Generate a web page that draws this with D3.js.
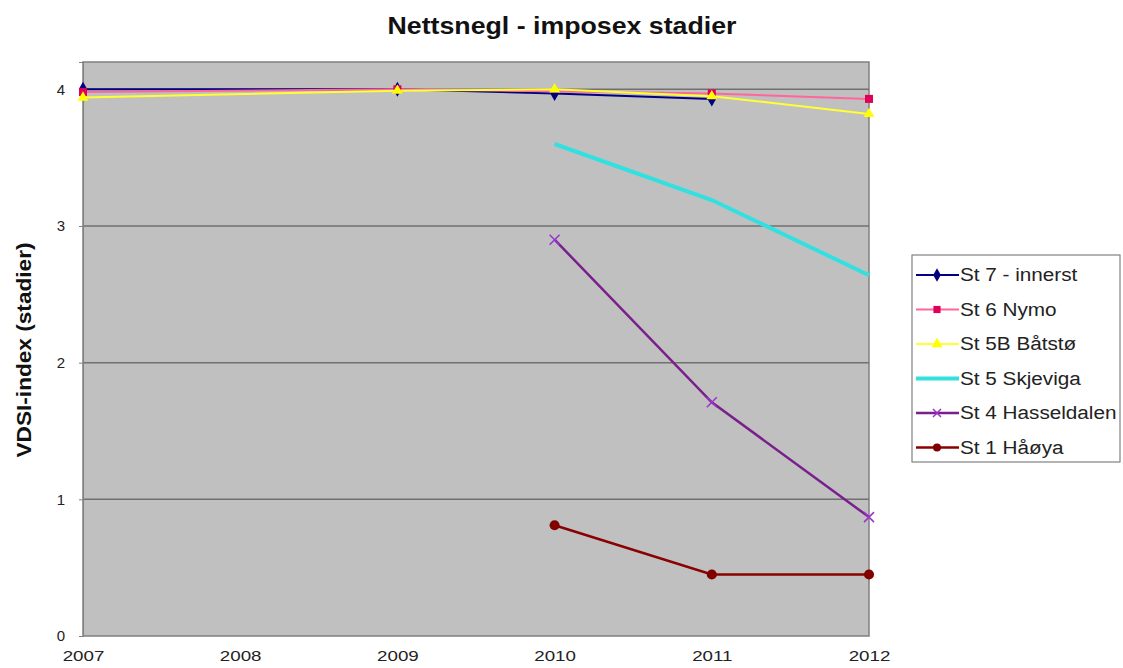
<!DOCTYPE html>
<html>
<head>
<meta charset="utf-8">
<script src="https://cdn.jsdelivr.net/npm/d3@7"></script>
<style>
  body { margin: 0; background: #fff; }
  text { font-family: "Liberation Sans", Arial, sans-serif; }
</style>
</head>
<body>
<svg id="chart" width="1123" height="668"></svg>
<script>
// years on the category axis
var years = [2007, 2008, 2009, 2010, 2011, 2012];
var yTicks = [0, 1, 2, 3, 4];

// VDSI per station, null = not sampled
var st7 = [4.0, null, 4.0, 3.97, 3.93, null];
var st6 = [3.98, null, 4.0, null, 3.97, 3.93];
var st5b = [3.94, null, 3.99, 4.0, 3.95, 3.82];
var st5 = [null, null, null, 3.6, 3.19, 2.64];
var st4 = [null, null, null, 2.9, 1.71, 0.87];
var st1 = [null, null, null, 0.81, 0.45, 0.45];

var names = ["St 7 - innerst", "St 6 Nymo", "St 5B Båtstø", "St 5 Skjeviga", "St 4 Hasseldalen", "St 1 Håøya"];

var series = [
  { name: names[0], values: st7, line: "#000080", mark: "#000080", width: 2, shape: "diamond", size: 4.5 },
  { name: names[1], values: st6, line: "#ff6699", mark: "#e0005a", width: 2, shape: "square", size: 4.5 },
  { name: names[2], values: st5b, line: "#ffff33", mark: "#ffff00", width: 2, shape: "triangle", size: 4 },
  { name: names[3], values: st5, line: "#33e0e0", mark: null, width: 4, shape: null, size: 0 },
  { name: names[4], values: st4, line: "#7a1f8c", mark: "#9933cc", width: 2.5, shape: "x", size: 5 },
  { name: names[5], values: st1, line: "#8b0000", mark: "#800000", width: 2.5, shape: "circle", size: 5 }
];

var svg = d3.select("#chart");
var pLeft = 83, pRight = 869, pTop = 62, pBottom = 636;

var x = d3.scaleLinear().domain([2007, 2012]).range([pLeft, pRight]);
var y = d3.scaleLinear().domain([0, 4.2]).range([pBottom, pTop]);

// stretch text sideways to the width seen in the picture
function widen(sel, f) {
  sel.each(function() {
    var w = this.getComputedTextLength();
    d3.select(this).attr("textLength", w * f).attr("lengthAdjust", "spacingAndGlyphs");
  });
}

// plot background
svg.append("rect")
  .attr("x", pLeft).attr("y", pTop)
  .attr("width", pRight - pLeft).attr("height", pBottom - pTop)
  .attr("fill", "#c0c0c0").attr("stroke", "#808080").attr("stroke-width", 1.5);

// gridlines
svg.selectAll(".grid").data(yTicks.slice(1)).enter().append("line")
  .attr("x1", pLeft).attr("x2", pRight)
  .attr("y1", function(d) { return y(d); }).attr("y2", function(d) { return y(d); })
  .attr("stroke", "#707070").attr("stroke-width", 1.5);

// y axis
var yAxis = d3.axisLeft(y).tickValues(yTicks).tickSize(4).tickPadding(14).tickFormat(d3.format("d"));
var ya = svg.append("g").attr("transform", "translate(" + pLeft + ",0)").call(yAxis);
ya.select(".domain").attr("stroke", "#808080");
ya.selectAll("line").attr("stroke", "#808080");
ya.selectAll("text").attr("font-size", 15).attr("fill", "#222");

// x axis
var xAxis = d3.axisBottom(x).tickValues(years).tickSize(0).tickPadding(14).tickFormat(d3.format("d"));
var xa = svg.append("g").attr("transform", "translate(0," + pBottom + ")").call(xAxis);
xa.select(".domain").remove();
xa.selectAll("text").attr("font-size", 15).attr("fill", "#222");
widen(xa.selectAll("text"), 1.25);

// lines
var line = d3.line()
  .x(function(d) { return x(d.year); })
  .y(function(d) { return y(d.v); });

function points(s) {
  return years.map(function(yr, i) { return { year: yr, v: s.values[i] }; })
    .filter(function(d) { return d.v !== null; });
}

function drawMarker(g, shape, color, cx, cy, size) {
  if (shape === "x") {
    g.append("path")
      .attr("d", "M" + (cx - size) + "," + (cy - size) + "L" + (cx + size) + "," + (cy + size) +
                 "M" + (cx - size) + "," + (cy + size) + "L" + (cx + size) + "," + (cy - size))
      .attr("stroke", color).attr("stroke-width", 1.5).attr("fill", "none");
    return;
  }
  var sym = { diamond: d3.symbolDiamond, square: d3.symbolSquare, triangle: d3.symbolTriangle, circle: d3.symbolCircle }[shape];
  g.append("path")
    .attr("d", d3.symbol().type(sym).size(size * size * 3.2)())
    .attr("transform", "translate(" + cx + "," + cy + ")")
    .attr("fill", color);
}

series.forEach(function(s) {
  var pts = points(s);
  svg.append("path").datum(pts)
    .attr("d", line)
    .attr("fill", "none")
    .attr("stroke", s.line)
    .attr("stroke-width", s.width);
  if (s.shape) {
    var g = svg.append("g");
    pts.forEach(function(p) { drawMarker(g, s.shape, s.mark, x(p.year), y(p.v), s.size); });
  }
});

// title
svg.append("text")
  .attr("x", 562).attr("y", 34)
  .attr("text-anchor", "middle")
  .attr("font-size", 23).attr("font-weight", "bold").attr("fill", "#111")
  .attr("textLength", 349).attr("lengthAdjust", "spacingAndGlyphs")
  .text("Nettsnegl - imposex stadier");

// y title
svg.append("text")
  .attr("transform", "translate(31,350) rotate(-90)")
  .attr("text-anchor", "middle")
  .attr("font-size", 21).attr("font-weight", "bold").attr("fill", "#111")
  .attr("textLength", 215).attr("lengthAdjust", "spacingAndGlyphs")
  .text("VDSI-index (stadier)");

// legend
var lg = svg.append("g").attr("transform", "translate(912,255)");
lg.append("rect").attr("width", 208).attr("height", 207)
  .attr("fill", "#fff").attr("stroke", "#808080").attr("stroke-width", 1.2);
series.forEach(function(s, i) {
  var cy = 20 + i * 34.5;
  lg.append("line").attr("x1", 4).attr("x2", 47).attr("y1", cy).attr("y2", cy)
    .attr("stroke", s.line).attr("stroke-width", s.width);
  if (s.shape) drawMarker(lg, s.shape, s.mark, 25, cy, 4);
  var t = lg.append("text").attr("x", 48).attr("y", cy + 6)
    .attr("font-size", 18).attr("fill", "#222").text(s.name);
  widen(t, 1.15);
});
</script>
</body>
</html>
